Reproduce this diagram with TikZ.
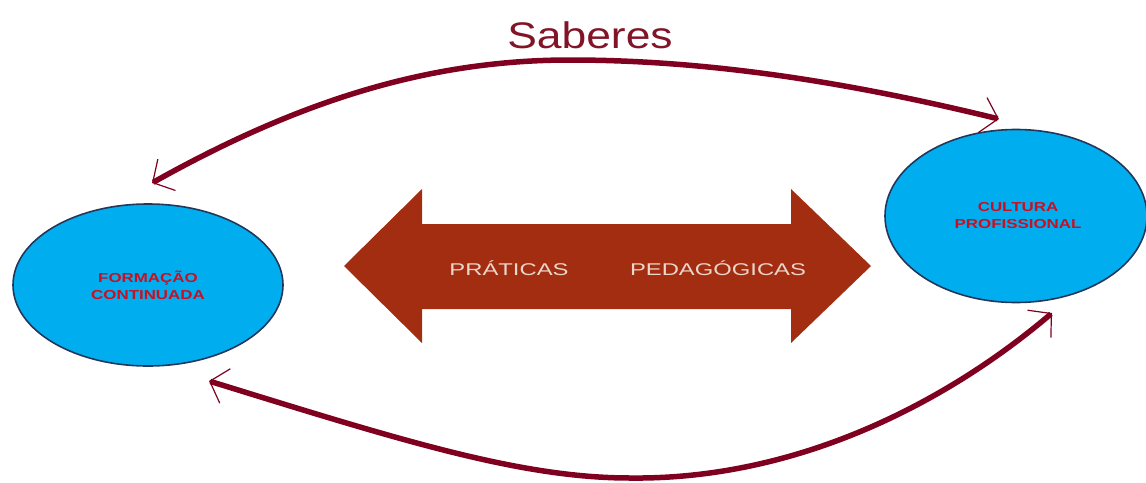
\documentclass[tikz,border=0pt]{standalone}
\usepackage{fontspec}
\setmainfont{Liberation Sans}
\usetikzlibrary{shapes.geometric,arrows.meta}

\definecolor{vinho}{RGB}{128,0,32}
\definecolor{tituloc}{RGB}{130,20,40}
\definecolor{azulc}{RGB}{0,174,239}
\definecolor{bordac}{RGB}{35,55,90}
\definecolor{setac}{RGB}{163,45,16}
\definecolor{letrac}{RGB}{200,16,36}
\definecolor{claroc}{RGB}{236,214,204}

\tikzset{every picture/.style={line width=0.75pt}}
\tikzset{
  bolha/.style={ellipse, fill=azulc, draw=bordac, line width=1.6pt, inner sep=0pt},
  rotulo/.style={text=letrac, align=center, font=\fontsize{13}{17}\selectfont\bfseries, inner sep=0pt},
  faixa/.style={text=claroc, font=\fontsize{17}{20}\selectfont, inner sep=0pt, anchor=base},
  saber/.style={draw=vinho, line width=5.5pt,
    {Straight Barb[length=16pt,width=36pt,line width=1.2pt]}-{Straight Barb[length=16pt,width=36pt,line width=1.2pt]}}
}

\begin{document}
\begin{tikzpicture}[x=1pt,y=1pt,yscale=-1,xscale=1]
	\useasboundingbox (0,0) rectangle (1146,482);
	
	%Shape: Ellipse
	\node [bolha, minimum width=270pt, minimum height=162pt] (formacao) at (148,285) {};
	%Shape: Ellipse
	\node [bolha, minimum width=262pt, minimum height=173pt] (cultura) at (1016,216) {};
	
	%Shape: Double Arrow
	\fill [setac] (344,266) -- (422,189) -- (422,224) -- (791,224) -- (791,189) -- (871,266) -- (791,343) -- (791,309) -- (422,309) -- (422,343) -- cycle ;
	
	%Curve Lines
	\coordinate (sabA) at (152,183);
	\coordinate (sabB) at (999,119);
	\coordinate (sabC) at (209,381);
	\coordinate (sabD) at (1052,313);
	\draw [saber] (sabA) .. controls (300,100) and (430,60) .. (570,60) .. controls (730,60) and (880,90) .. (sabB) ;
	\draw [saber] (sabC) .. controls (400,440) and (520,478) .. (630,478) .. controls (800,480) and (950,400) .. (sabD) ;
	
	% Text Node
	\node [text=tituloc, anchor=base, inner sep=0pt] (saberes) at (590,48) {\scalebox{1.2}[1]{\fontsize{37}{40}\selectfont Saberes}};
	% Text Node
	\node [rotulo] (txtformacao) at (formacao.center) {\scalebox{1.3}[1]{FORMAÇÃO}\\\scalebox{1.3}[1]{CONTINUADA}};
	% Text Node
	\node [rotulo] (txtcultura) at ([xshift=2pt]cultura.center) {\scalebox{1.3}[1]{CULTURA}\\\scalebox{1.3}[1]{PROFISSIONAL}};
	% Text Node
	\node [faixa] (praticas) at (509,275) {\scalebox{1.4}[1]{PRÁTICAS}};
	% Text Node
	\node [faixa] (pedagogicas) at (718,275) {\scalebox{1.4}[1]{PEDAGÓGICAS}};
	
\end{tikzpicture}
\end{document}
